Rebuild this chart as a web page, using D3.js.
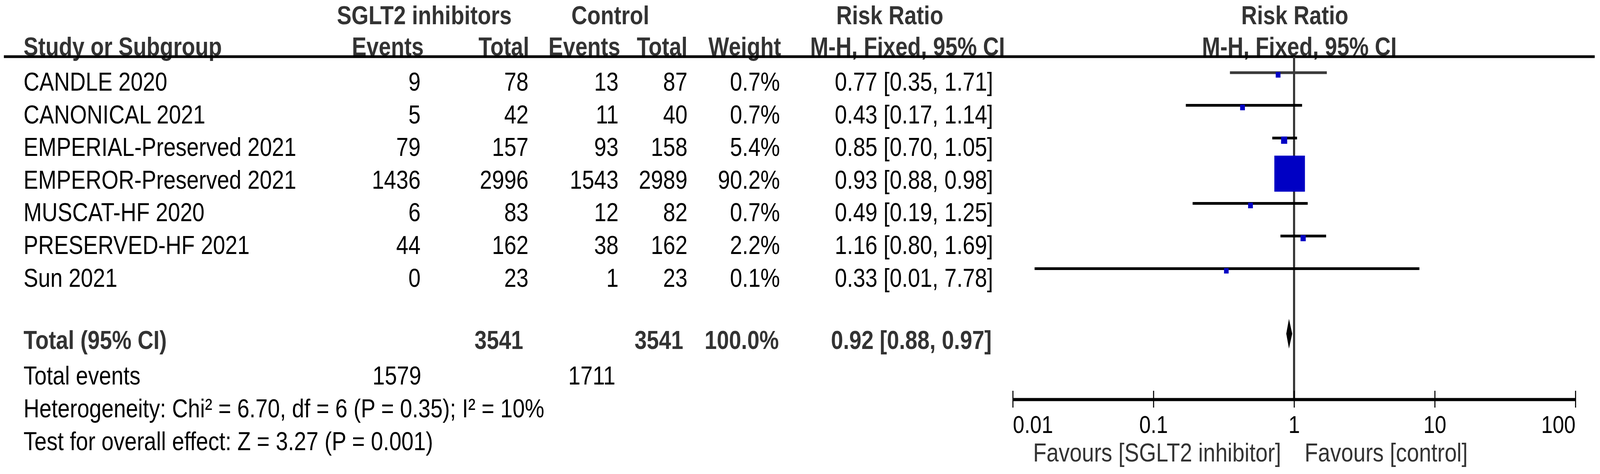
<!DOCTYPE html>
<html>
<head>
<meta charset="utf-8">
<script src="https://cdn.jsdelivr.net/npm/d3@7"></script>
<style>
  html, body { margin: 0; padding: 0; background: #fff; width: 100%; height: 100%; overflow: hidden; }
  svg { display: block; width: 100vw; height: 100vh; font-family: "Liberation Sans", Arial, sans-serif; }
</style>
</head>
<body>
<svg id="chart"></svg>
<script>
/* Forest plot: SGLT2 inhibitors vs control, risk ratio (M-H, fixed) */

const studies   = ["CANDLE 2020", "CANONICAL 2021", "EMPERIAL-Preserved 2021", "EMPEROR-Preserved 2021",
                   "MUSCAT-HF 2020", "PRESERVED-HF 2021", "Sun 2021"];
const expEvents = [9, 5, 79, 1436, 6, 44, 0];
const expTotal  = [78, 42, 157, 2996, 83, 162, 23];
const ctlEvents = [13, 11, 93, 1543, 12, 38, 1];
const ctlTotal  = [87, 40, 158, 2989, 82, 162, 23];
const weights   = [0.7, 0.7, 5.4, 90.2, 0.7, 2.2, 0.1];
const rr        = [0.77, 0.43, 0.85, 0.93, 0.49, 1.16, 0.33];
const ciLow     = [0.35, 0.17, 0.70, 0.88, 0.19, 0.80, 0.0143];
const ciHigh    = [1.71, 1.14, 1.05, 0.98, 1.25, 1.69, 7.78];

const pooled       = [0.92, 0.88, 0.97];     // RR, lower, upper
const totalN       = [3541, 3541];           // SGLT2, control
const totalEvents  = [1579, 1711];
const totalWeight  = "100.0%";

const axisTicks   = [0.01, 0.1, 1, 10, 100];
const tickLabels  = ["0.01", "0.1", "1", "10", "100"];
const footerLines = ["Heterogeneity: Chi\u00B2 = 6.70, df = 6 (P = 0.35); I\u00B2 = 10%",
                     "Test for overall effect: Z = 3.27 (P = 0.001)"];

const W = 4550, H = 1213;
const SX = 0.93;          // glyphs in the picture are slightly condensed
const FS = 67;
const HEAD = "#333";

// draw in 4550x1213 units, stretched to whatever the viewport is
const svg = d3.select("#chart")
  .attr("viewBox", `0 0 ${W} ${H}`)
  .attr("preserveAspectRatio", "none");
svg.append("rect").attr("width", W).attr("height", H).attr("fill", "#fff");

// row baselines for table text, row centres for the plot
const rowY  = d3.scaleLinear().domain([0, 1]).range([232, 315.6]);
const plotY = d3.scaleLinear().domain([0, 1]).range([186, 269.6]);

const x = d3.scaleLog().domain([0.01, 100]).range([2880, 4480]);
const boxSide = d3.scaleLinear().domain([0, d3.max(weights)]).range([13, 87]);

function txt(x0, y0, s, o = {}){
  return svg.append("text")
    .attr("transform", `translate(${x0},${y0}) scale(${o.sx ?? SX},1)`)
    .attr("text-anchor", o.anchor || "start")
    .attr("font-size", o.size || FS)
    .attr("font-weight", o.bold ? "bold" : "normal")
    .attr("fill", o.fill || "#000")
    .text(s);
}

/* ---------- Headers ---------- */
const hb = { bold: true, fill: HEAD };
txt(958, 62, "SGLT2 inhibitors", hb);
txt(1625, 62, "Control", hb);
txt(2378, 62, "Risk Ratio", hb);
txt(3682, 62, "Risk Ratio", { ...hb, anchor: "middle" });

txt(67, 142, "Study or Subgroup", hb);
txt(1205, 142, "Events", { ...hb, anchor: "end" });
txt(1505, 142, "Total", { ...hb, anchor: "end" });
txt(1764, 142, "Events", { ...hb, anchor: "end" });
txt(1955, 142, "Total", { ...hb, anchor: "end" });
txt(2221, 142, "Weight", { ...hb, anchor: "end" });
txt(2304, 142, "M-H, Fixed, 95% CI", hb);
txt(3695, 142, "M-H, Fixed, 95% CI", { ...hb, anchor: "middle" });

svg.append("line")
  .attr("x1", 11).attr("x2", 4535).attr("y1", 145).attr("y2", 145)
  .attr("stroke", "#000").attr("stroke-width", 7);

/* ---------- Study rows ---------- */
const fmt2 = d3.format(".2f");
studies.forEach((s, i) => {
  const y = rowY(i);
  txt(67, y, s);
  txt(1196, y, String(expEvents[i]), { anchor: "end" });
  txt(1503, y, String(expTotal[i]), { anchor: "end" });
  txt(1759, y, String(ctlEvents[i]), { anchor: "end" });
  txt(1955, y, String(ctlTotal[i]), { anchor: "end" });
  txt(2218, y, weights[i].toFixed(1) + "%", { anchor: "end" });
  txt(2374, y, `${fmt2(rr[i])} [${fmt2(ciLow[i])}, ${fmt2(ciHigh[i])}]`);
});

/* ---------- Totals ---------- */
const yTot = 893;
const tb = { bold: true, fill: HEAD };
txt(67, yTot, "Total (95% CI)", tb);
txt(1488, yTot, String(totalN[0]), { ...tb, anchor: "end" });
txt(1943, yTot, String(totalN[1]), { ...tb, anchor: "end" });
txt(2215, yTot, totalWeight, { ...tb, anchor: "end" });
txt(2363, yTot, `${fmt2(pooled[0])} [${fmt2(pooled[1])}, ${fmt2(pooled[2])}]`, tb);

txt(67, rowY(9), "Total events");
txt(1198, rowY(9), String(totalEvents[0]), { anchor: "end" });
txt(1750, rowY(9), String(totalEvents[1]), { anchor: "end" });
footerLines.forEach((s, k) => txt(67, rowY(10 + k), s));

/* ---------- Plot ---------- */
const g = svg.append("g");

// line of no effect
g.append("line")
  .attr("x1", x(1)).attr("x2", x(1)).attr("y1", 145).attr("y2", 1022)
  .attr("stroke", "#333").attr("stroke-width", 6);

// confidence intervals
g.selectAll("line.ci")
  .data(studies)
  .join("line")
  .attr("class", "ci")
  .attr("x1", (d, i) => x(ciLow[i]))
  .attr("x2", (d, i) => x(ciHigh[i]))
  .attr("y1", (d, i) => plotY(i))
  .attr("y2", (d, i) => plotY(i))
  .attr("stroke", (d, i) => i === 0 ? "#3a3a3a" : "#000")
  .attr("stroke-width", 7);

// weight boxes (sit a little below the CI line in the original)
g.selectAll("rect.box")
  .data(studies)
  .join("rect")
  .attr("class", "box")
  .attr("x", (d, i) => x(rr[i]) - boxSide(weights[i]) / 2)
  .attr("y", (d, i) => plotY(i) + 5 - boxSide(weights[i]) / 2)
  .attr("width", (d, i) => boxSide(weights[i]))
  .attr("height", (d, i) => boxSide(weights[i]) * 1.06)
  .attr("fill", "#0000c4");

// pooled diamond
const dY = 854, dH = 38;
g.append("path")
  .attr("d", `M${x(pooled[1])},${dY} L${x(pooled[0])},${dY - dH} L${x(pooled[2])},${dY} L${x(pooled[0])},${dY + dH} Z`)
  .attr("fill", "#000");

/* ---------- Axis ---------- */
const axisG = svg.append("g")
  .attr("transform", "translate(0,1022)")
  .call(d3.axisBottom(x).tickValues(axisTicks).tickSizeInner(21).tickSizeOuter(0)
    .tickFormat((d, i) => tickLabels[i]));

axisG.select(".domain").attr("stroke", "#000").attr("stroke-width", 8);
axisG.selectAll(".tick line").attr("y1", -22).attr("stroke", "#000").attr("stroke-width", 3);
axisG.selectAll(".tick text")
  .attr("y", 86).attr("dy", 0)
  .attr("transform", `scale(${SX},1)`)
  .attr("font-size", 63)
  .attr("font-family", "Liberation Sans, Arial, sans-serif")
  .attr("fill", "#000")
  .attr("text-anchor", (d, i) => i === 0 ? "start" : i === axisTicks.length - 1 ? "end" : "middle");

txt(x(1) - 37, 1181, "Favours [SGLT2 inhibitor]", { anchor: "end", fill: HEAD });
txt(x(1) + 30, 1181, "Favours [control]", { fill: HEAD });
</script>
</body>
</html>
